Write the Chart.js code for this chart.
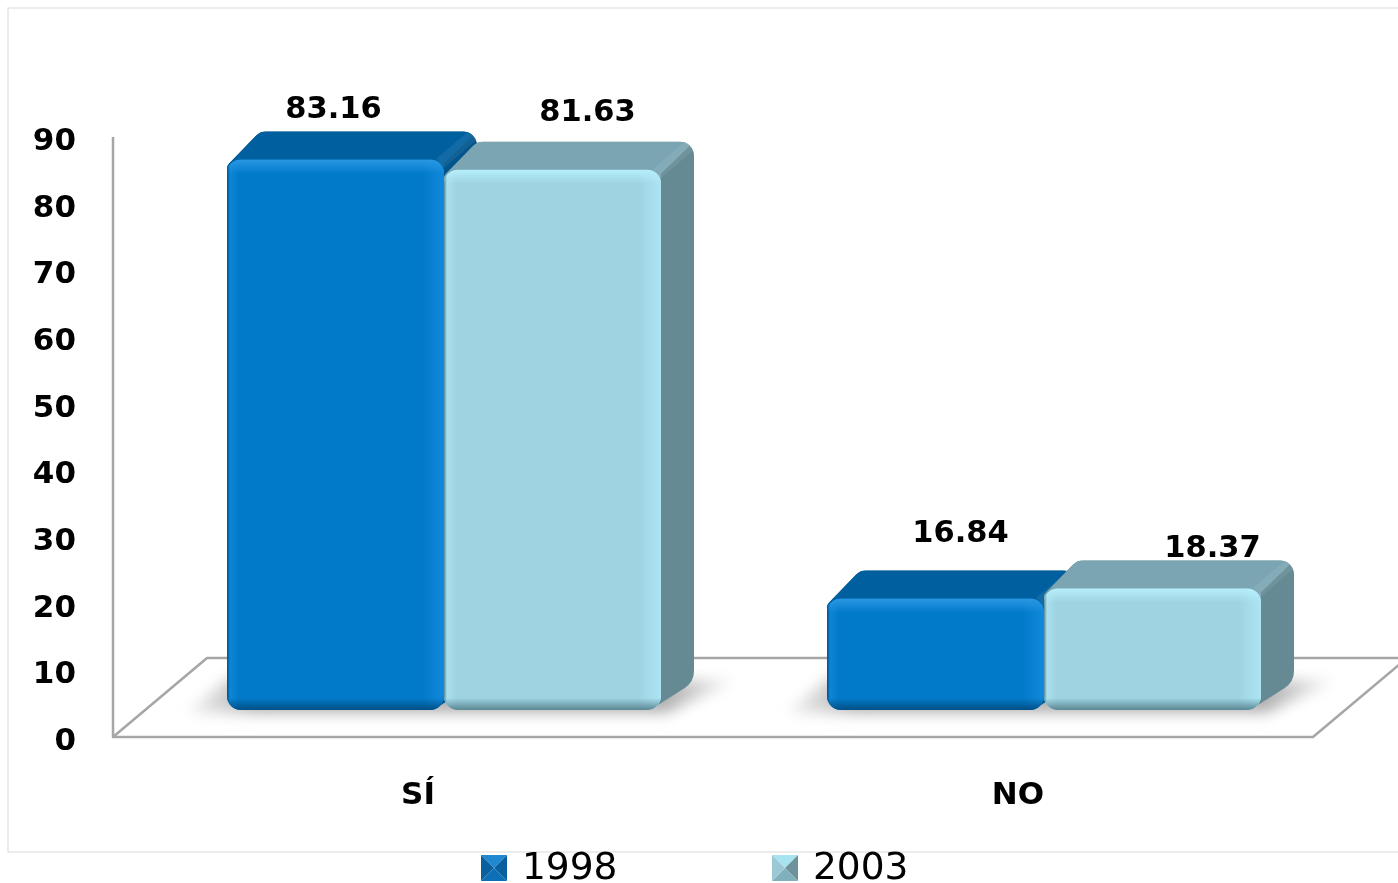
<!DOCTYPE html>
<html>
<head>
<meta charset="utf-8">
<script src="https://cdn.jsdelivr.net/npm/chart.js@4"></script>
<style>
body { margin: 0; background: #fff; }
canvas { display: block; }
</style>
</head>
<body>
<canvas id="myChart" width="1398" height="883"></canvas>
<script>
var categories = ["SÍ", "NO"];
var seriesNames = ["1998", "2003"];
var values1998 = [83.16, 16.84];
var values2003 = [81.63, 18.37];
var yTicks = [0, 10, 20, 30, 40, 50, 60, 70, 80, 90];

// colours per series: front, top, side, then the bevel on the front face
// icon is the legend square: top, right, bottom, left
var looks = [
	{ front: "#027aca", top: "#00609f", side: "#00558c", hiTop: "#2a98e4", hiSide: "#1289da", low: "#004f85",
		icon: ["#1f88d0", "#0a5f9e", "#0d6fb5", "#0a5f9e"] },
	{ front: "#9fd3e2", top: "#7ba5b3", side: "#658a94", hiTop: "#b6effc", hiSide: "#ade5f4", low: "#5b8894",
		icon: ["#a8e4f0", "#6e929c", "#7fb0bc", "#9cc8d4"] }
];
var depthX = 33, depthY = -28;
var floorX = 94, floorY = -79;
// the value labels do not sit at a regular place over their bars
var labelShift = [[[-2, -49], [25, -64]], [[35, -57], [60, -39]]];

// path through corners [x, y, radius]
function cornerPath(ctx, pts) {
	var n = pts.length;
	ctx.beginPath();
	ctx.moveTo((pts[n - 1][0] + pts[0][0]) / 2, (pts[n - 1][1] + pts[0][1]) / 2);
	for (var i = 0; i < n; i++) {
		var next = pts[(i + 1) % n];
		ctx.arcTo(pts[i][0], pts[i][1], (pts[i][0] + next[0]) / 2, (pts[i][1] + next[1]) / 2, pts[i][2]);
	}
	ctx.closePath();
}

function eachBar(chart, fn) {
	chart.data.datasets.forEach(function (ds, s) {
		chart.getDatasetMeta(s).data.forEach(function (bar, i) {
			fn(bar, s, i, bar.x - bar.width / 2, bar.x + bar.width / 2, bar.y, bar.base);
		});
	});
}

function edge(ctx, x0, y0, x1, y1, color, rx, ry, rw, rh) {
	var g = ctx.createLinearGradient(x0, y0, x1, y1);
	g.addColorStop(0, color);
	g.addColorStop(1, color + "00");
	ctx.fillStyle = g;
	ctx.fillRect(rx, ry, rw, rh);
}

var box3d = {
	id: "box3d",
	beforeDraw: function (chart) {
		var ctx = chart.ctx;
		ctx.save();
		ctx.strokeStyle = "#e6e6e6";
		ctx.lineWidth = 1.5;
		ctx.strokeRect(8, 8, 1392, 844);
		ctx.restore();
	},
	beforeDatasetsDraw: function (chart) {
		var ctx = chart.ctx, a = chart.chartArea;
		var left = a.left - 31, right = a.right - 31, bottom = a.bottom;
		ctx.save();
		ctx.strokeStyle = "#a6a6a6";
		ctx.lineWidth = 2.5;
		ctx.lineJoin = "round";
		ctx.beginPath();
		ctx.moveTo(left, a.top);
		ctx.lineTo(left, bottom);
		ctx.lineTo(right, bottom);
		ctx.lineTo(right + floorX, bottom + floorY);
		ctx.lineTo(left + floorX, bottom + floorY);
		ctx.lineTo(left, bottom);
		ctx.stroke();
		ctx.restore();

		// soft shadow on the floor, one for each group of bars
		categories.forEach(function (c, i) {
			var b0 = chart.getDatasetMeta(0).data[i], b1 = chart.getDatasetMeta(1).data[i];
			var l = b0.x - b0.width / 2, r = b1.x + b1.width / 2, y = b0.base;
			ctx.save();
			ctx.filter = "blur(7px)";
			var g = ctx.createLinearGradient(l - 50, 0, r + depthX + 50, 0);
			g.addColorStop(0, "rgba(150,150,150,0)");
			g.addColorStop(0.14, "rgba(150,150,150,.75)");
			g.addColorStop(0.86, "rgba(150,150,150,.75)");
			g.addColorStop(1, "rgba(150,150,150,0)");
			ctx.fillStyle = g;
			ctx.beginPath();
			ctx.moveTo(l - 42, y + 3);
			ctx.lineTo(l + 2, y - 32);
			ctx.lineTo(r + depthX + 42, y - 30);
			ctx.lineTo(r + 6, y + 3);
			ctx.closePath();
			ctx.fill();
			ctx.restore();
		});

		// top and side faces, later series over the earlier one
		eachBar(chart, function (bar, s, i, l, r, t, b) {
			var look = looks[s];
			ctx.save();
			cornerPath(ctx, [[l, t + 24, 0], [l, t + 6, 8], [l + depthX, t + depthY, 14], [r + depthX, t + depthY, 14], [r + depthX, b + depthY, 20], [r - 3, b - 5, 0], [r - 3, t + 24, 0]]);
			ctx.fillStyle = look.side;
			ctx.fill();
			ctx.clip();
			ctx.fillStyle = look.top;
			ctx.beginPath();
			ctx.moveTo(l, t + 24);
			ctx.lineTo(l, t + 6);
			ctx.lineTo(l + depthX, t + depthY);
			ctx.lineTo(r + depthX, t + depthY);
			ctx.lineTo(r, t + 4);
			ctx.lineTo(r, t + 24);
			ctx.closePath();
			ctx.fill();
			// lighter strip along the diagonal edge
			ctx.strokeStyle = "rgba(255,255,255,.07)";
			ctx.lineWidth = 12;
			ctx.beginPath();
			ctx.moveTo(r - 4, t + 4);
			ctx.lineTo(r + depthX - 2, t + depthY + 2);
			ctx.stroke();
			ctx.restore();
		});
	},
	afterDatasetsDraw: function (chart) {
		var ctx = chart.ctx;
		eachBar(chart, function (bar, s, i, l, r, t, b) {
			var look = looks[s], w = r - l, h = b - t, R = 14;
			ctx.save();
			cornerPath(ctx, [[l, t, R], [r, t, R], [r, b, R], [l, b, R]]);
			ctx.clip();
			edge(ctx, r, 0, r - 22, 0, look.hiSide, r - 22, t, 22, h);
			edge(ctx, l, 0, l + 12, 0, look.hiSide, l, t, 12, h);
			edge(ctx, 0, b, 0, b - 12, look.low, l, b - 12, w, 12);
			edge(ctx, 0, t, 0, t + 14, look.hiTop, l, t, w, 14);
			edge(ctx, l, 0, l + 3, 0, look.low, l, t, 3, h);
			ctx.restore();
		});
		// value labels
		ctx.save();
		ctx.fillStyle = "#000";
		ctx.font = "bold 30.5px 'DejaVu Sans'";
		ctx.textAlign = "center";
		ctx.textBaseline = "middle";
		eachBar(chart, function (bar, s, i, l, r, t) {
			var v = chart.data.datasets[s].data[i];
			ctx.fillText(v.toFixed(2), bar.x + labelShift[s][i][0], t + labelShift[s][i][1]);
		});
		ctx.restore();
	},
	afterDraw: function (chart) {
		// legend: the gap between its two entries is too wide for the built in one
		var ctx = chart.ctx, xs = [481, 772], y = 855, size = 26;
		ctx.save();
		seriesNames.forEach(function (name, s) {
			var x = xs[s], c = looks[s].icon, mx = x + size / 2, my = y + size / 2;
			var corners = [[x, y], [x + size, y], [x + size, y + size], [x, y + size]];
			corners.forEach(function (p, j) {
				var q = corners[(j + 1) % 4];
				ctx.fillStyle = c[j];
				ctx.beginPath();
				ctx.moveTo(p[0], p[1]);
				ctx.lineTo(q[0], q[1]);
				ctx.lineTo(mx, my);
				ctx.closePath();
				ctx.fill();
			});
			ctx.fillStyle = "#000";
			ctx.font = "37.5px 'DejaVu Sans'";
			ctx.textAlign = "left";
			ctx.textBaseline = "middle";
			ctx.fillText(name, x + size + 15, my + 1);
		});
		ctx.restore();
	}
};

var ctx = document.getElementById("myChart");

var data = {
	labels: categories,
	datasets: [
		{ label: seriesNames[0], data: values1998, backgroundColor: looks[0].front, yAxisID: "yBar", borderRadius: 14, borderSkipped: false },
		{ label: seriesNames[1], data: values2003, backgroundColor: looks[1].front, yAxisID: "yBar", borderRadius: 14, borderSkipped: false }
	]
};

var myBarChart = new Chart(ctx, {
	type: "bar",
	data: data,
	plugins: [box3d],
	options: {
		responsive: false,
		animation: false,
		layout: { padding: { top: 137, right: 54, bottom: 0, left: 0 } },
		datasets: { bar: { categoryPercentage: 0.7233, barPercentage: 1 } },
		plugins: { legend: { display: false }, tooltip: { enabled: false } },
		scales: {
			x: {
				grid: { display: false },
				border: { display: false },
				afterFit: function (scale) { scale.height = 146; },
				ticks: { color: "#000", padding: 32, labelOffset: -26, font: { family: "DejaVu Sans", weight: "bold", size: 31 } }
			},
			y: {
				min: yTicks[0],
				max: yTicks[yTicks.length - 1],
				grid: { display: false },
				border: { display: false },
				afterFit: function (scale) { scale.width = 144; },
				afterBuildTicks: function (scale) { scale.ticks = yTicks.map(function (v) { return { value: v }; }); },
				ticks: { color: "#000", padding: 60, labelOffset: 5, font: { family: "DejaVu Sans", weight: "bold", size: 31 } }
			},
			// bars stand in the middle of the floor, so their zero is higher than the axis zero
			yBar: { display: false, min: -4.08, max: 86.56 }
		}
	}
});
</script>
</body>
</html>
